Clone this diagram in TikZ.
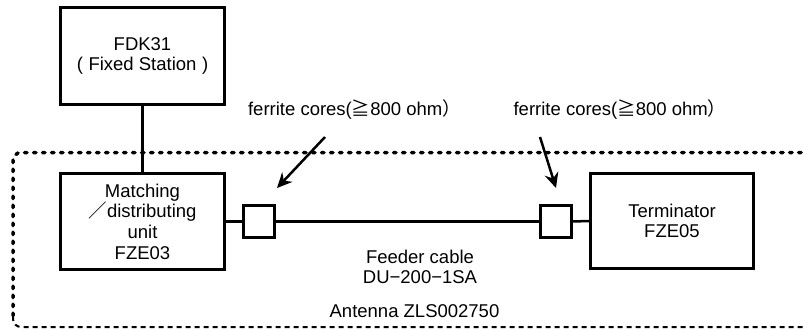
\documentclass[tikz,border=0pt]{standalone}
\usepackage{fontspec}
\setmainfont{Liberation Sans}
\newfontfamily\cjk{Noto Sans CJK JP}
\usetikzlibrary{arrows.meta, positioning}
\tikzset{>=Stealth}
\tikzset{
  unit/.style={rectangle, draw=black, line width=3pt, align=center, inner sep=0pt},
  core/.style={rectangle, draw=black, line width=2.5pt, minimum width=31pt, minimum height=32pt, inner sep=0pt},
  wire/.style={line width=2.5pt},
  arrow/.style={-{Stealth[length=15pt, width=14pt, inset=5pt]}, line width=2.5pt},
  antdot/.style={line width=3.5pt, line cap=round, dash pattern=on 2.5pt off 6.5pt},
  antdash/.style={line width=2pt, dash pattern=on 5pt off 4pt},
  labelbox/.style={rectangle, draw=none, align=center, inner sep=0pt}
}

\begin{document}
\begin{tikzpicture}[
    x=1pt, y=-1pt,
    every node/.style={font=\fontsize{18.5}{20.7}\selectfont},
]
\useasboundingbox (0,0) rectangle (804,330);

% Antenna boundary
\draw[antdot, rounded corners=8pt] (810,152.5) -| (13,321);
\draw[antdash, rounded corners=8pt] (13,316) |- (810,327);

% Units
\node[unit, minimum width=164pt, minimum height=97pt] (fdk) at (142.5,56) {FDK31\\(\hspace{0.3em}Fixed Station\hspace{0.3em})};
\node[unit, minimum width=164pt, minimum height=96pt] (match) at (142.5,221.5) {Matching\\{\cjk ／}distributing\\unit\\FZE03};
\node[unit, minimum width=163pt, minimum height=95pt] (term) at (672,221) {Terminator\\FZE05};

% Ferrite cores
\node[core] (core1) at (259,221.5) {};
\node[core] (core2) at (556,221.5) {};

% Connections
\draw[wire] (fdk.south) -- (match.north);
\draw[wire] (match.east) -- (core1.west);
\draw[wire] (core1.east) -- (core2.west);
\draw[wire] (core2.east) -- (term.west);

% Labels
\node[labelbox] (lbl1) at (354.5,109) {ferrite cores({\cjk ≧}800 ohm{\cjk ）}};
\node[labelbox] (lbl2) at (620,109) {ferrite cores({\cjk ≧}800 ohm{\cjk ）}};
\node[labelbox] (cable) at (420,267) {Feeder cable\\DU−200−1SA};
\node[labelbox] (ant) at (414.5,311.5) {Antenna ZLS002750};

% Arrows to the cores
\coordinate (a1s) at (325,137);
\coordinate (a1e) at (277,188);
\coordinate (a2s) at (540,137);
\coordinate (a2e) at (556,188);
\draw[arrow] (a1s) -- (a1e);
\draw[arrow] (a2s) -- (a2e);

\end{tikzpicture}
\end{document}
